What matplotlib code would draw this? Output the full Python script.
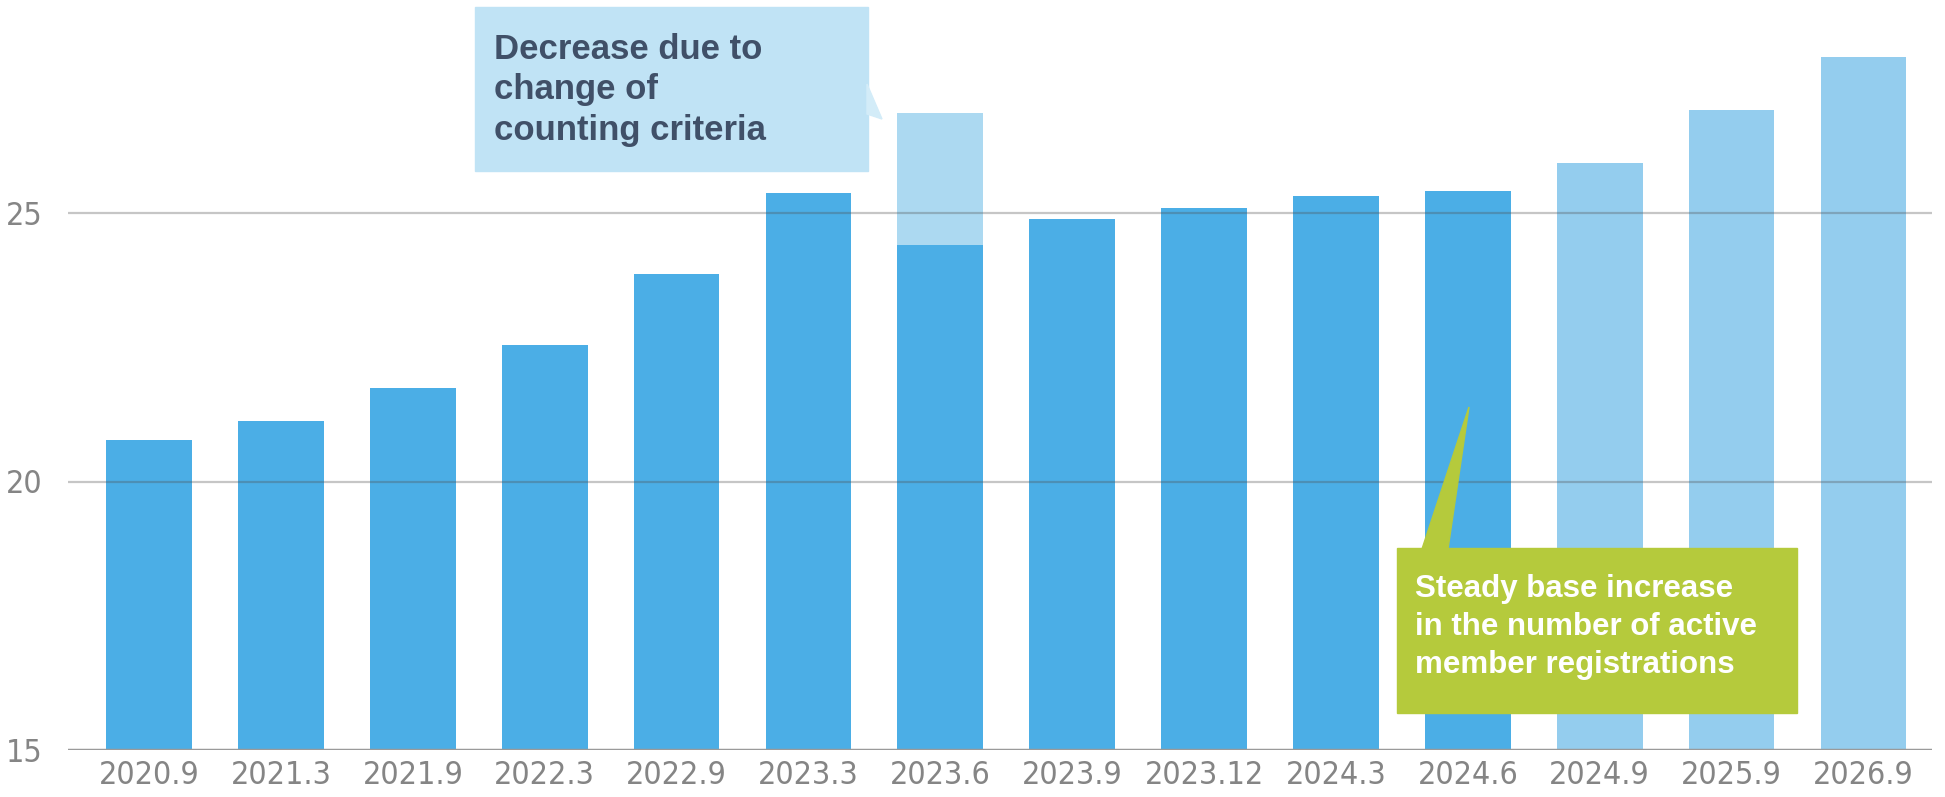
import matplotlib
matplotlib.use("Agg")
import matplotlib.pyplot as plt
from matplotlib import font_manager
from matplotlib.patches import Rectangle, Polygon

# data (millions)
periods = ["2020.9", "2021.3", "2021.9", "2022.3", "2022.9", "2023.3", "2023.6",
           "2023.9", "2023.12", "2024.3", "2024.6", "2024.9", "2025.9", "2026.9"]
actual = [20.77, 21.12, 21.74, 22.55, 23.86, 25.37, 24.41, 24.88, 25.09, 25.32, 25.41]
forecast = [25.93, 26.92, 27.91]
old_criteria_2023_6 = 26.87
yticks = [15, 20, 25]

# the tick labels use a narrow upright font; take one if installed
narrow = None
for f in font_manager.fontManager.ttflist:
    n = f.name + " " + str(f.stretch) + " " + f.fname
    if ("Condensed" in n or "Narrow" in n or "condensed" in n) and "Mono" not in n \
            and "Serif" not in n and f.style == "normal" \
            and f.weight in (400, "normal", "regular"):
        narrow = f
        break
if narrow is not None:
    tick_kw = dict(fname=narrow.fname)
else:
    tick_kw = dict(family="DejaVu Sans", stretch="condensed")
tick_prop = font_manager.FontProperties(size=23, **tick_kw)

W, H = 1945, 797
fig = plt.figure(figsize=(W / 100, H / 100), dpi=100)
ax = fig.add_axes([68 / W, 1 - 750 / H, (1932 - 68) / W, 750 / H])

dark = "#4baee6"
light = "#94cdee"
paler = "#acd9f1"
x_act = list(range(len(actual)))
x_fc = list(range(len(actual), len(periods)))
ax.bar(x_act, actual, width=0.65, color=dark, zorder=1)
ax.bar(x_fc, forecast, width=0.65, color=light, zorder=1)
i6 = periods.index("2023.6")
ax.bar([i6], [old_criteria_2023_6 - actual[i6]], bottom=actual[i6], width=0.65,
       color=paler, zorder=1)

ax.set_xlim(-0.615, 13.52)
ax.set_ylim(15, 15 + 750 / 53.7)
for y in yticks[1:]:
    ax.axhline(y, color="#505050", alpha=0.32, lw=1.6, zorder=2)
ax.axhline(15, color="#9a9a9a", lw=2.5, zorder=3)

for s in ax.spines.values():
    s.set_visible(False)
ax.set_xticks(range(len(periods)))
ax.set_xticklabels(periods)
ax.set_yticks(yticks)
ax.tick_params(length=0, colors="#858585")
ax.tick_params(axis="x", pad=7)
ax.tick_params(axis="y", pad=18)
for lab in ax.get_xticklabels() + ax.get_yticklabels():
    lab.set_fontproperties(tick_prop)


def px(x, y):
    return (x / W, 1 - y / H)


# blue callout
blue_box = "#c0e3f5"
fig.patches.append(Rectangle(px(475, 171), (868 - 475) / W, (171 - 7) / H,
                             transform=fig.transFigure, color=blue_box, zorder=5))
fig.patches.append(Polygon([px(867, 84), px(882, 119), px(867, 114)],
                           transform=fig.transFigure, color="#d3ecf8", zorder=5))
fig.text(494 / W, 1 - 33 / H, "Decrease due to\nchange of\ncounting criteria",
         family="Liberation Sans", weight="bold", fontsize=25, color="#405068",
         va="top", ha="left", linespacing=1.28, zorder=6)

# green callout
green = "#b5ca3c"
fig.patches.append(Rectangle(px(1397, 713), (1797 - 1397) / W, (713 - 548) / H,
                             transform=fig.transFigure, color=green, zorder=5))
fig.patches.append(Polygon([px(1422, 549), px(1469, 407), px(1448, 549)],
                           transform=fig.transFigure, color=green, zorder=5))
fig.text(1415 / W, 1 - 574 / H,
         "Steady base increase\nin the number of active\nmember registrations",
         family="Liberation Sans", weight="bold", fontsize=22.5, color="white",
         va="top", ha="left", linespacing=1.34, zorder=6)

fig.savefig("out.png", dpi=100)
